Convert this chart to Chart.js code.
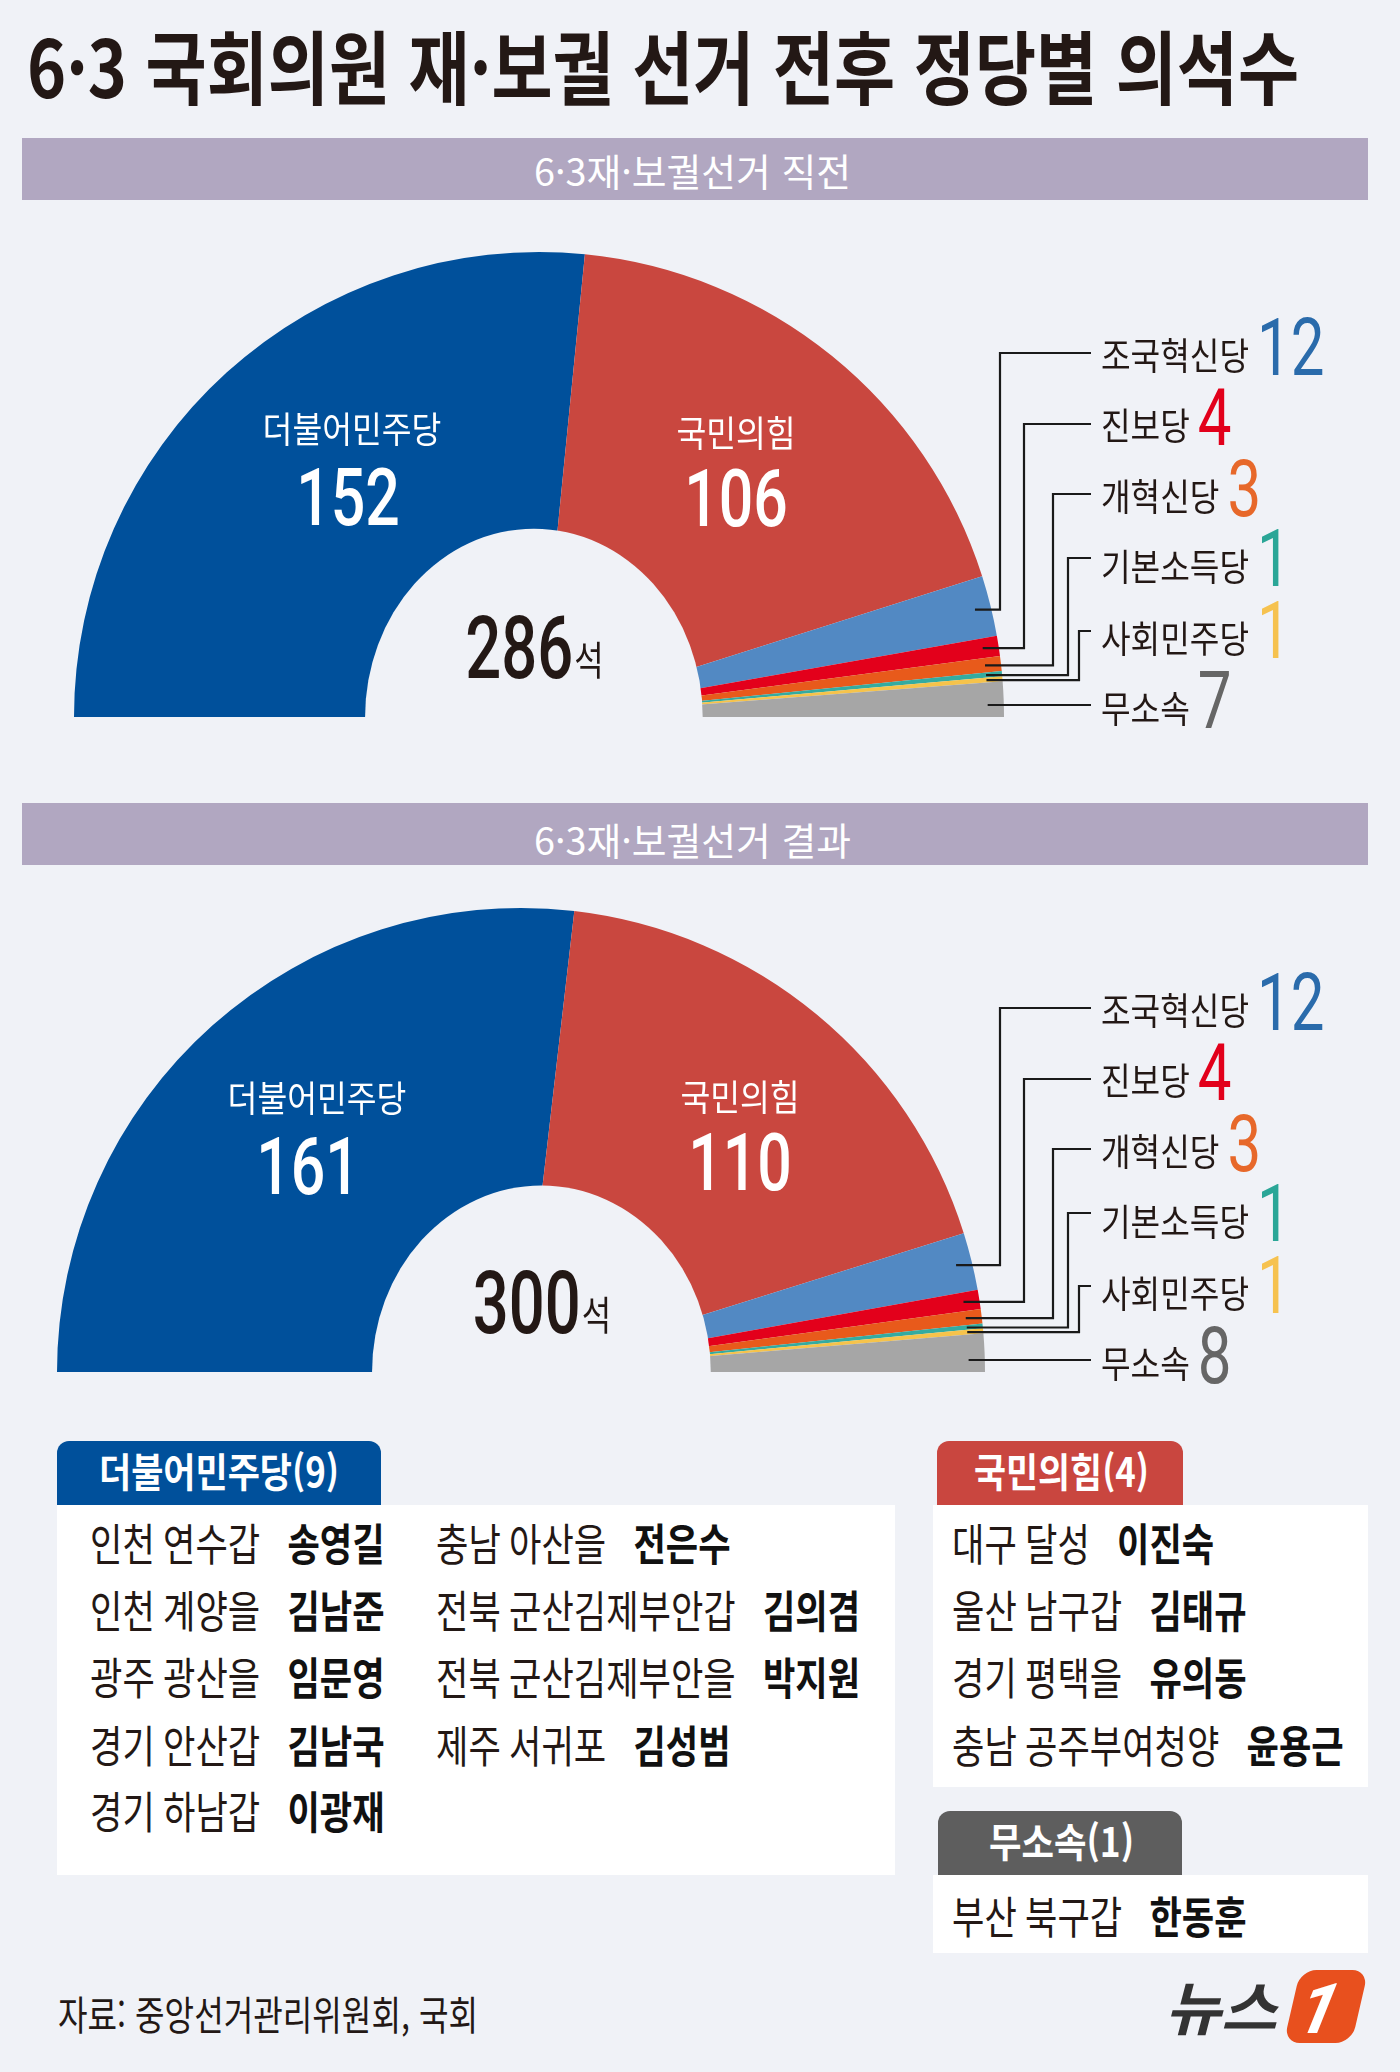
<!DOCTYPE html>
<html lang="ko">
<head>
<meta charset="utf-8">
<title>6·3 국회의원 재·보궐 선거 전후 정당별 의석수</title>
<script src="https://cdn.jsdelivr.net/npm/chart.js@4.4.1/dist/chart.umd.min.js"></script>
<style>
  html, body { margin: 0; padding: 0; }
  body {
    width: 1400px; height: 2072px; position: relative; overflow: hidden;
    background: #f0f2f7; color: #231815;
    font-family: "Noto Sans CJK KR", "Noto Sans", sans-serif;
  }
  .fit, .row { position: absolute; white-space: nowrap; line-height: 1; transform-origin: 0 50%; }
  .box { position: absolute; }
  .tab { position: absolute; border-radius: 12px 12px 0 0; }
  .bar { position: absolute; left: 22px; width: 1346px; height: 62px; background: #b1a7c1; }
  canvas { position: absolute; left: 0; }
  #title { font-size: 80px; font-weight: 700; }
  .barText { font-size: 38px; color: #fff; }
  .tabText { font-size: 40px; font-weight: 700; color: #fff; }
  .row { font-size: 44px; word-spacing: -2px; }
  .row b { font-weight: 700; margin-left: 34px; color: #111; word-spacing: 0; }
  #source { font-size: 40px; }
  #news { font-size: 58px; font-weight: 700; font-style: italic; color: #333; }
  #one {
    position: absolute; left: 1292px; top: 1970px; width: 68px; height: 73px;
    background: #e8501e; border-radius: 16px; transform: skewX(-13deg); overflow: hidden;
  }
  #one span {
    position: absolute; left: 8px; top: -2px; font: italic 700 70px Roboto; color: #fff;
  }
</style>
</head>
<body>

<div class="fit" id="title" data-x="27" data-y="68" data-w="1272">6·3 국회의원 재·보궐 선거 전후 정당별 의석수</div>

<div class="bar" style="top:138px"></div>
<div class="fit barText" data-x="692" data-y="172" data-w="317" data-c="1">6·3재·보궐선거 직전</div>
<canvas id="before" width="1400" height="540" style="top:205px"></canvas>

<div class="bar" style="top:803px"></div>
<div class="fit barText" data-x="692" data-y="841" data-w="317" data-c="1">6·3재·보궐선거 결과</div>
<canvas id="after" width="1400" height="540" style="top:870px"></canvas>

<div class="tab" style="left:57px;top:1441px;width:324px;height:64px;background:#00509b"></div>
<div class="box" style="left:57px;top:1505px;width:838px;height:370px;background:#fff"></div>
<div class="tab" style="left:937px;top:1441px;width:246px;height:64px;background:#c9463f"></div>
<div class="box" style="left:933px;top:1505px;width:435px;height:282px;background:#fff"></div>
<div class="tab" style="left:938px;top:1811px;width:244px;height:64px;background:#5e5e5e"></div>
<div class="box" style="left:933px;top:1875px;width:435px;height:78px;background:#fff"></div>

<div class="fit tabText" id="dpTab" data-x="219" data-y="1472" data-w="240" data-c="1"></div>
<div class="fit tabText" id="pppTab" data-x="1061" data-y="1472" data-w="175" data-c="1"></div>
<div class="fit tabText" id="indTab" data-x="1061" data-y="1842" data-w="145" data-c="1"></div>

<div class="fit" id="source" data-x="58" data-y="2015" data-w="420">자료: 중앙선거관리위원회, 국회</div>
<div class="fit" id="news" data-x="1165" data-y="2008" data-w="112">뉴스</div>
<div id="one"><span>1</span></div>

<script>
// 정당별 의석수
const partyNames = ["더불어민주당", "국민의힘", "조국혁신당", "진보당", "개혁신당", "기본소득당", "사회민주당", "무소속"];
const seatsBefore = [152, 106, 12, 4, 3, 1, 1, 7];
const seatsAfter = [161, 110, 12, 4, 3, 1, 1, 8];
const sliceColors = ["#00509b", "#c9473f", "#5289c3", "#e3001b", "#e85a1b", "#34aba0", "#f6c34b", "#a6a6a6"];
const numberColors = ["#ffffff", "#ffffff", "#2a6bab", "#e2001b", "#e7682a", "#2aa697", "#f6c24f", "#666666"];

// 재·보궐 당선자 (지역구, 이름)
const dpWinners = [
    ["인천 연수갑", "송영길"], ["인천 계양을", "김남준"], ["광주 광산을", "임문영"],
    ["경기 안산갑", "김남국"], ["경기 하남갑", "이광재"], ["충남 아산을", "전은수"],
    ["전북 군산김제부안갑", "김의겸"], ["전북 군산김제부안을", "박지원"], ["제주 서귀포", "김성범"],
];
const pppWinners = [["대구 달성", "이진숙"], ["울산 남구갑", "김태규"], ["경기 평택을", "유의동"], ["충남 공주부여청양", "윤용근"]];
const indWinners = [["부산 북구갑", "한동훈"]];

const BG = "#f0f2f7";
const KR = '"Noto Sans CJK KR"';

// 좁은 글꼴 흉내: 가로로 눌러서 그리기
function condText(ctx, text, x, y, sx, align) {
    const w = ctx.measureText(text).width * sx;
    const left = align === "center" ? x - w / 2 : x;
    ctx.save();
    ctx.translate(left, y);
    ctx.scale(sx, 1);
    ctx.textAlign = "left";
    ctx.fillText(text, 0, 0);
    ctx.restore();
    return w;
}

const seatLabels = {
    id: "seatLabels",
    afterDatasetsDraw(chart, args, opts) {
        const ctx = chart.ctx;
        const arcs = chart.getDatasetMeta(0).data;
        const values = chart.data.datasets[0].data;
        const names = chart.data.labels;
        const { x: cx, y: cy, outerRadius: r } = arcs[0];
        const hx = cx + opts.holeDx * r;

        ctx.save();
        ctx.textBaseline = "alphabetic";

        // 가운데 구멍 (세로로 조금 긴 반타원)
        ctx.fillStyle = BG;
        ctx.beginPath();
        ctx.ellipse(hx, cy, opts.holeRx * r, opts.holeRy * r, 0, Math.PI, 2 * Math.PI);
        ctx.closePath();
        ctx.fill();

        // 총 의석수
        const total = String(values.reduce((a, b) => a + b, 0));
        ctx.fillStyle = "#231815";
        ctx.font = "500 88px Roboto";
        const numW = ctx.measureText(total).width * 0.72;
        ctx.font = `400 40px ${KR}`;
        const unitW = ctx.measureText("석").width * 0.8;
        const left = hx - (numW + unitW) / 2;
        ctx.font = "500 88px Roboto";
        condText(ctx, total, left, cy - 39, 0.72);
        ctx.font = `400 40px ${KR}`;
        condText(ctx, "석", left + numW + 1, cy - 42, 0.8);

        // 큰 두 정당 라벨
        opts.inner.forEach((p, i) => {
            ctx.fillStyle = "#fff";
            ctx.font = `400 36px ${KR}`;
            condText(ctx, names[i], cx + p[0], cy + p[1] + 13, 0.9, "center");
            ctx.font = "500 80px Roboto";
            condText(ctx, String(values[i]), cx + p[2], cy + p[3] + 29, 0.76, "center");
        });

        // 작은 정당: 지시선 + 이름 + 숫자
        ctx.strokeStyle = "#1a1a1a";
        ctx.lineWidth = 2.2;
        ctx.lineJoin = "miter";
        for (let k = 0; k < names.length - 2; k++) {
            const i = k + 2;
            const a = arcs[i];
            const mid = (a.startAngle + a.endAngle) / 2;
            const px = cx + (r - 16) * Math.cos(mid);
            const py = cy + (r - 16) * Math.sin(mid);
            const ly = cy + opts.lineY[k];
            const ex = opts.elbowX[k];

            ctx.beginPath();
            if (ex != null) {
                ctx.moveTo(px, py);
                ctx.lineTo(ex, py);
                ctx.lineTo(ex, ly);
            } else {
                ctx.moveTo(px, ly);
            }
            ctx.lineTo(opts.lineEnd, ly);
            ctx.stroke();

            const ty = cy + opts.textY[k];
            ctx.fillStyle = "#231815";
            ctx.font = `400 37px ${KR}`;
            const tw = condText(ctx, names[i], opts.textX, ty + 14, 0.87);
            ctx.fillStyle = numberColors[i];
            ctx.font = "400 79px Roboto";
            condText(ctx, String(values[i]), opts.textX + tw + 8, ty + 19, 0.76);
        }
        ctx.restore();
    },
};

const legendLayout = {
    textX: 1101,
    lineEnd: 1091,
    elbowX: [1000, 1024, 1053, 1068, 1079, null],
    lineY: [-364, -293, -223, -159, -86, -12],
    textY: [-361, -291, -220, -150, -78, -8],
};

function makeChart(id, seats, padding, labelOpts) {
    return new Chart(document.getElementById(id), {
        type: "doughnut",
        data: {
            labels: partyNames,
            datasets: [{
                data: seats,
                backgroundColor: sliceColors,
                borderWidth: 0,
                hoverOffset: 0,
            }],
        },
        options: {
            responsive: false,
            animation: false,
            events: [],
            rotation: -90,
            circumference: 180,
            cutout: "30%",
            layout: { padding },
            plugins: {
                legend: { display: false },
                tooltip: { enabled: false },
                seatLabels: Object.assign({}, legendLayout, labelOpts),
            },
        },
        plugins: [seatLabels],
    });
}

makeChart("before", seatsBefore, { left: 74, right: 396, top: 47, bottom: 28 }, {
    holeDx: -0.011, holeRx: 0.363, holeRy: 0.405,
    inner: [[-187, -287, -191, -221], [197, -283, 197, -220]],
});
makeChart("after", seatsAfter, { left: 57, right: 415, top: 38, bottom: 38 }, {
    holeDx: 0.044, holeRx: 0.365, holeRy: 0.402,
    inner: [[-204, -273, -213, -207], [219, -274, 219, -211]],
});

// 당선자 목록
document.getElementById("dpTab").textContent = `더불어민주당(${dpWinners.length})`;
document.getElementById("pppTab").textContent = `국민의힘(${pppWinners.length})`;
document.getElementById("indTab").textContent = `무소속(${indWinners.length})`;

const rowY = [1545, 1612, 1679, 1747, 1813];
function addRow(x, y, [district, name]) {
    const el = document.createElement("div");
    el.className = "row";
    el.style.left = x + "px";
    el.style.top = (y - 0.56 * 44) + "px";
    el.style.transform = "scaleX(0.8)";
    el.innerHTML = `<span>${district}</span><b>${name}</b>`;
    document.body.appendChild(el);
}
dpWinners.forEach((w, i) => addRow(i < 5 ? 90 : 436, rowY[i % 5], w));
pppWinners.forEach((w, i) => addRow(952, rowY[i], w));
indWinners.forEach((w) => addRow(952, 1918, w));

// 제목 등 글자 폭 맞추기
document.querySelectorAll(".fit").forEach((el) => {
    const fs = parseFloat(getComputedStyle(el).fontSize);
    const natural = el.getBoundingClientRect().width;
    const w = +el.dataset.w;
    const x = +el.dataset.x;
    el.style.left = (el.dataset.c ? x - w / 2 : x) + "px";
    el.style.top = (+el.dataset.y - 0.56 * fs) + "px";
    el.style.transform = `scaleX(${w / natural})`;
});
</script>
</body>
</html>
